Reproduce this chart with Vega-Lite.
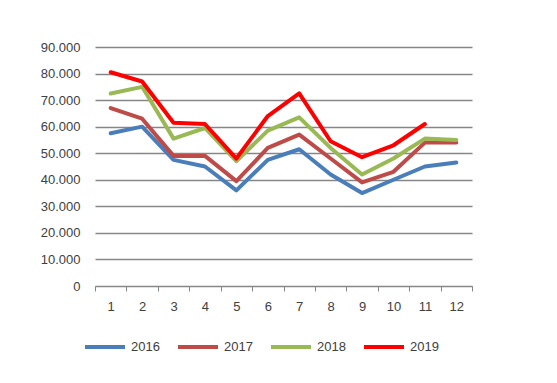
{
  "$schema": "https://vega.github.io/schema/vega-lite/v6.json",
  "width": 377,
  "height": 239,
  "autosize": "none",
  "padding": {"left": 95, "top": 47, "right": 85, "bottom": 97},
  "background": "white",
  "data": {
    "values": [
      {"month": 1, "year": "2016", "value": 57500},
      {"month": 2, "year": "2016", "value": 60000},
      {"month": 3, "year": "2016", "value": 47500},
      {"month": 4, "year": "2016", "value": 45000},
      {"month": 5, "year": "2016", "value": 36000},
      {"month": 6, "year": "2016", "value": 47500},
      {"month": 7, "year": "2016", "value": 51500},
      {"month": 8, "year": "2016", "value": 42000},
      {"month": 9, "year": "2016", "value": 35000},
      {"month": 10, "year": "2016", "value": 40000},
      {"month": 11, "year": "2016", "value": 45000},
      {"month": 12, "year": "2016", "value": 46500},
      {"month": 1, "year": "2017", "value": 67000},
      {"month": 2, "year": "2017", "value": 63000},
      {"month": 3, "year": "2017", "value": 49000},
      {"month": 4, "year": "2017", "value": 49000},
      {"month": 5, "year": "2017", "value": 39500},
      {"month": 6, "year": "2017", "value": 52000},
      {"month": 7, "year": "2017", "value": 57000},
      {"month": 8, "year": "2017", "value": 48000},
      {"month": 9, "year": "2017", "value": 39000},
      {"month": 10, "year": "2017", "value": 43000},
      {"month": 11, "year": "2017", "value": 54000},
      {"month": 12, "year": "2017", "value": 54000},
      {"month": 1, "year": "2018", "value": 72500},
      {"month": 2, "year": "2018", "value": 75000},
      {"month": 3, "year": "2018", "value": 55500},
      {"month": 4, "year": "2018", "value": 59500},
      {"month": 5, "year": "2018", "value": 47000},
      {"month": 6, "year": "2018", "value": 58500},
      {"month": 7, "year": "2018", "value": 63500},
      {"month": 8, "year": "2018", "value": 52000},
      {"month": 9, "year": "2018", "value": 42000},
      {"month": 10, "year": "2018", "value": 48000},
      {"month": 11, "year": "2018", "value": 55500},
      {"month": 12, "year": "2018", "value": 55000},
      {"month": 1, "year": "2019", "value": 80500},
      {"month": 2, "year": "2019", "value": 77000},
      {"month": 3, "year": "2019", "value": 61500},
      {"month": 4, "year": "2019", "value": 61000},
      {"month": 5, "year": "2019", "value": 48000},
      {"month": 6, "year": "2019", "value": 64000},
      {"month": 7, "year": "2019", "value": 72500},
      {"month": 8, "year": "2019", "value": 54500},
      {"month": 9, "year": "2019", "value": 48500},
      {"month": 10, "year": "2019", "value": 53000},
      {"month": 11, "year": "2019", "value": 61000}
    ]
  },
  "mark": {"type": "line", "strokeCap": "round", "strokeJoin": "round"},
  "encoding": {
    "x": {
      "field": "month",
      "type": "ordinal",
      "scale": {"type": "band", "paddingInner": 0, "paddingOuter": 0},
      "axis": {
        "title": null,
        "labelAngle": 0,
        "tickBand": "extent",
        "domainColor": "#868686",
        "tickColor": "#868686",
        "tickSize": 5,
        "labelPadding": 9,
        "labelFont": "Liberation Sans",
        "labelFontSize": 13,
        "labelColor": "#404040",
        "grid": false
      }
    },
    "y": {
      "field": "value",
      "type": "quantitative",
      "scale": {"domain": [0, 90000], "nice": false},
      "axis": {
        "title": null,
        "values": [0, 10000, 20000, 30000, 40000, 50000, 60000, 70000, 80000, 90000],
        "labelExpr": "replace(format(datum.value, ',d'), ',', '.')",
        "labelOverlap": false,
        "labelBound": false,
        "domain": false,
        "ticks": false,
        "labelPadding": 15,
        "labelFont": "Liberation Sans",
        "labelFontSize": 13,
        "labelColor": "#404040",
        "gridColor": "#868686",
        "gridWidth": 1.5
      }
    },
    "color": {
      "field": "year",
      "type": "nominal",
      "scale": {"domain": ["2016", "2017", "2018", "2019"], "range": ["#4A7EBB", "#BE4B48", "#98B954", "#FF0000"]},
      "legend": {
        "title": null,
        "orient": "none",
        "direction": "horizontal",
        "legendX": -12,
        "legendY": 278,
        "symbolType": "stroke",
        "symbolSize": 1600,
        "symbolStrokeWidth": 4.5,
        "labelFont": "Liberation Sans",
        "labelFontSize": 13,
        "labelColor": "#404040",
        "labelOffset": 4,
        "columnSpacing": 20
      }
    },
    "strokeWidth": {
      "field": "year",
      "type": "nominal",
      "scale": {"domain": ["2016", "2017", "2018", "2019"], "range": [4, 4, 4, 6]},
      "legend": null
    }
  },
  "config": {"view": {"stroke": null}}
}
